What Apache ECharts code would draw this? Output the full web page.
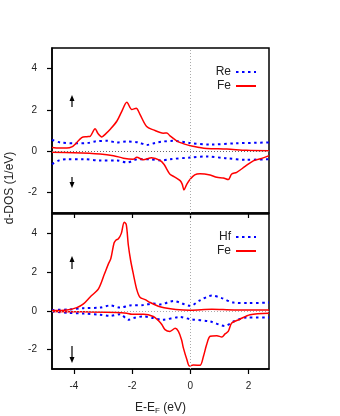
<!DOCTYPE html>
<html>
<head>
<meta charset="utf-8">
<script src="https://cdn.jsdelivr.net/npm/echarts@6/dist/echarts.min.js"></script>
<style>
  html, body { margin: 0; padding: 0; background: #fff; }
  #chart { width: 340px; height: 416px; }
</style>
</head>
<body>
<div id="chart"></div>
<script>
// energy ticks and DOS ticks
const xTicks = [-4, -2, 0, 2];
const yTicks = [-2, 0, 2, 4];

// top panel: [E-EF, DOS]
const reUp = [[-4.75,0.55],[-4.47,0.42],[-3.9,0.38],[-3.5,0.4],[-3.27,0.47],[-2.85,0.5],[-2.52,0.42],[-2.18,0.47],[-1.78,0.42],[-1.5,0.3],[-1.2,0.4],[-0.98,0.46],[-0.58,0.5],[0,0.39],[0.68,0.32],[1.59,0.38],[2.7,0.42]];
const reDn = [[-4.75,-0.63],[-4.5,-0.45],[-4.24,-0.39],[-3.67,-0.39],[-3.1,-0.45],[-2.52,-0.45],[-2.18,-0.55],[-1.78,-0.39],[-1.4,-0.4],[-0.98,-0.45],[-0.7,-0.39],[0,-0.31],[0.56,-0.26],[1.25,-0.35],[1.93,-0.42],[2.7,-0.39]];
const feUpTop = [[-4.75,0.18],[-4.5,0.15],[-4.24,0.15],[-4.05,0.22],[-3.95,0.34],[-3.73,0.66],[-3.55,0.7],[-3.44,0.72],[-3.27,1.09],[-3.17,0.85],[-3.04,0.69],[-2.9,0.85],[-2.75,1.06],[-2.52,1.46],[-2.35,1.94],[-2.18,2.37],[-2.01,2.02],[-1.86,2.08],[-1.73,1.78],[-1.5,1.19],[-1.27,1.03],[-0.93,0.87],[-0.81,0.88],[-0.7,0.74],[-0.47,0.5],[-0.2,0.34],[0,0.26],[0.3,0.18],[0.56,0.13],[1.25,0.1],[1.93,0.04],[2.7,0.02]];
const feDnTop = [[-4.75,-0.06],[-4,-0.08],[-3.1,-0.14],[-2.64,-0.22],[-2.3,-0.34],[-1.96,-0.39],[-1.84,-0.3],[-1.62,-0.42],[-1.33,-0.32],[-1.04,-0.45],[-0.9,-0.65],[-0.8,-0.9],[-0.7,-1.12],[-0.52,-1.27],[-0.35,-1.43],[-0.28,-1.6],[-0.22,-1.88],[-0.12,-1.6],[0,-1.35],[0.15,-1.15],[0.33,-1.1],[0.68,-1.16],[0.91,-1.27],[1.13,-1.3],[1.3,-1.38],[1.42,-1.11],[1.59,-1.03],[1.88,-0.74],[2.16,-0.47],[2.45,-0.35],[2.7,-0.22]];

// bottom panel
const hfUp = [[-4.75,0.05],[-4.2,0.07],[-3.67,0.14],[-3.1,0.17],[-2.75,0.28],[-2.41,0.17],[-2.07,0.28],[-1.61,0.3],[-1.27,0.38],[-1.04,0.33],[-0.58,0.51],[0,0.26],[0.33,0.54],[0.74,0.79],[1.08,0.66],[1.48,0.43],[2,0.4],[2.7,0.43]];
const hfDn = [[-4.75,-0.03],[-4.2,-0.1],[-3.67,-0.14],[-3.1,-0.2],[-2.75,-0.26],[-2.41,-0.17],[-2.13,-0.46],[-1.95,-0.37],[-1.61,-0.29],[-1.27,-0.37],[-0.98,-0.46],[-0.35,-0.32],[0,-0.43],[0.68,-0.55],[1.19,-0.78],[1.48,-0.55],[1.93,-0.34],[2.7,-0.34]];
const feUpBot = [[-4.75,0.02],[-4.24,0.05],[-3.9,0.17],[-3.67,0.36],[-3.44,0.72],[-3.15,1.15],[-2.95,1.9],[-2.82,2.4],[-2.73,2.7],[-2.62,3.5],[-2.55,3.66],[-2.47,3.72],[-2.37,4.0],[-2.27,4.58],[-2.2,4.45],[-2.13,3.4],[-2.05,2.6],[-1.95,1.85],[-1.84,1.1],[-1.73,0.7],[-1.55,0.58],[-1.38,0.43],[-1.1,0.24],[-0.9,0.16],[-0.5,0.07],[0,0.03],[0.74,0.08],[1.5,0.05],[2.7,0.05]];
const feDnBot = [[-4.75,-0.03],[-3.67,-0.05],[-2.53,-0.08],[-2.18,-0.12],[-2.01,-0.17],[-1.6,-0.17],[-1.27,-0.29],[-1.1,-0.5],[-0.98,-0.7],[-0.87,-0.97],[-0.7,-1.06],[-0.52,-0.9],[-0.41,-1.06],[-0.3,-1.5],[-0.24,-1.91],[-0.12,-2.51],[-0.03,-2.85],[0.1,-2.79],[0.33,-2.81],[0.45,-2.34],[0.56,-1.74],[0.68,-1.31],[0.91,-1.28],[1.08,-1.35],[1.19,-1.19],[1.3,-1.06],[1.42,-0.63],[1.7,-0.43],[2.05,-0.2],[2.7,-0.12]];

const FONT = 'Liberation Sans';
const chart = echarts.init(document.getElementById('chart'), null, { renderer: 'canvas' });

function xAxisOf(grid, labels) {
  return {
    type: 'value', gridIndex: grid, min: -4.75, max: 2.7,
    axisLine: { show: true, onZero: false, lineStyle: { color: '#000', width: 1.5 } },
    axisTick: { show: true, inside: false, length: 5, customValues: xTicks, lineStyle: { color: '#000', width: 1.2 } },
    axisLabel: { show: labels, customValues: xTicks, margin: 12, fontFamily: FONT, fontSize: 10, color: '#222' },
    splitLine: { show: false },
    name: labels ? '{a|E-E}{s|F}{a| (eV)}' : '',
    nameLocation: 'middle', nameGap: 31,
    nameTextStyle: {
      rich: {
        a: { fontFamily: FONT, fontSize: 12, color: '#222' },
        s: { fontFamily: FONT, fontSize: 8, color: '#222', padding: [7, 0, 0, 0] }
      }
    }
  };
}

function yAxisOf(grid) {
  return {
    type: 'value', gridIndex: grid, min: -3, max: 5,
    axisLine: { show: true, onZero: false, lineStyle: { color: '#000', width: 1.5 } },
    axisTick: { show: true, inside: false, length: 5, customValues: yTicks, lineStyle: { color: '#000', width: 1.2 } },
    axisLabel: { customValues: yTicks, margin: 15, fontFamily: FONT, fontSize: 10, color: '#222' },
    splitLine: { show: false }
  };
}

function dotted(name, data, ax) {
  return {
    name, type: 'line', data, xAxisIndex: ax, yAxisIndex: ax, showSymbol: false, symbol: 'none',
    smooth: 0.3, color: '#0000ff', itemStyle: { opacity: 0 },
    lineStyle: { color: '#0000ff', width: 2, type: [2.5, 3.5] }, z: 3
  };
}

function solid(name, data, ax) {
  return {
    name, type: 'line', data, xAxisIndex: ax, yAxisIndex: ax, showSymbol: false, symbol: 'none',
    smooth: 0.3, color: '#ff0000', itemStyle: { opacity: 0 },
    lineStyle: { color: '#ff0000', width: 1.5 }, z: 4
  };
}

function zeroLines(ax, hColor) {
  return {
    type: 'line', data: [], xAxisIndex: ax, yAxisIndex: ax, silent: true, z: 2,
    markLine: {
      silent: true, symbol: 'none', label: { show: false },
      data: [
        { xAxis: 0, lineStyle: { color: '#aaa', width: 1, type: [1, 2] } },
        { yAxis: 0, lineStyle: { color: hColor, width: 1, type: [1, 2] } }
      ]
    }
  };
}

function arrow(x, y1, y2) {
  // spin direction marker: shaft from y1 to head at y2
  const dir = y2 < y1 ? 1 : -1;
  return {
    type: 'group', silent: true,
    children: [
      { type: 'line', shape: { x1: x, y1: y1, x2: x, y2: y2 + dir * 3 }, style: { stroke: '#000', lineWidth: 1.2 } },
      { type: 'polygon', shape: { points: [[x, y2], [x - 2.5, y2 + dir * 6], [x + 2.5, y2 + dir * 6]] }, style: { fill: '#000' } }
    ]
  };
}

chart.setOption({
  animation: false,
  backgroundColor: '#fff',
  grid: [
    { left: 52, right: 71, top: 48, height: 165, show: true, borderColor: '#000', borderWidth: 1.5, backgroundColor: 'transparent' },
    { left: 52, right: 71, top: 214, height: 156, show: true, borderColor: '#000', borderWidth: 1.5, backgroundColor: 'transparent' }
  ],
  xAxis: [xAxisOf(0, false), xAxisOf(1, true)],
  yAxis: [yAxisOf(0), yAxisOf(1)],
  legend: [
    {
      data: ['Re', 'Fe'], orient: 'vertical', align: 'right', right: 78, top: 61,
      itemWidth: 20, itemHeight: 10, itemGap: 2, selectedMode: false,
      textStyle: { fontFamily: FONT, fontSize: 12, color: '#222', padding: [0, 0, 0, 0] }
    },
    {
      data: ['Hf', 'Fe'], orient: 'vertical', align: 'right', right: 78, top: 226,
      itemWidth: 20, itemHeight: 10, itemGap: 2, selectedMode: false,
      textStyle: { fontFamily: FONT, fontSize: 12, color: '#222', padding: [0, 0, 0, 0] }
    }
  ],
  series: [
    zeroLines(0, '#666'),
    zeroLines(1, '#aaa'),
    dotted('Re', reUp, 0),
    dotted('Re', reDn, 0),
    solid('Fe', feUpTop, 0),
    solid('Fe', feDnTop, 0),
    dotted('Hf', hfUp, 1),
    dotted('Hf', hfDn, 1),
    solid('Fe', feUpBot, 1),
    solid('Fe', feDnBot, 1)
  ],
  graphic: [
    {
      type: 'text', x: 10, y: 188, rotation: Math.PI / 2,
      style: { text: 'd-DOS (1/eV)', fontFamily: FONT, fontSize: 12, fill: '#222', align: 'center', verticalAlign: 'middle' }
    },
    arrow(72, 107, 95),
    arrow(72, 177, 188),
    arrow(72, 269, 256),
    arrow(72, 346, 363)
  ]
});
</script>
</body>
</html>
